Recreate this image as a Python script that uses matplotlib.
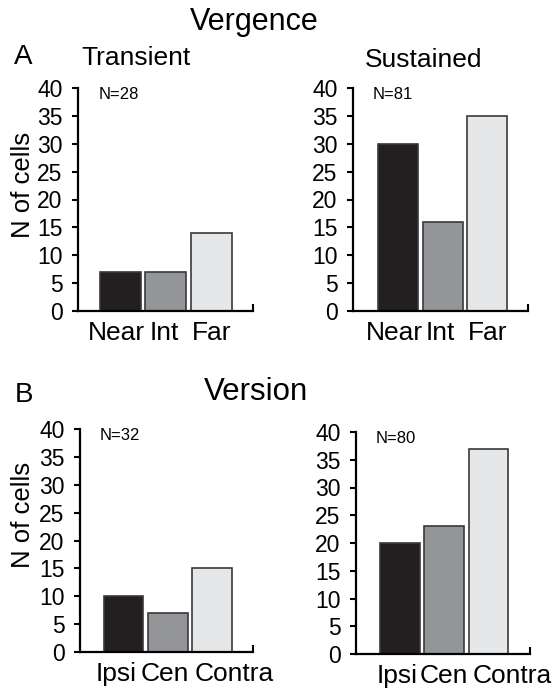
import matplotlib.pyplot as plt

plt.rcParams['font.family'] = ['Liberation Sans', 'DejaVu Sans']

vergence_labels = ['Near', 'Int', 'Far']
transient_counts = [7, 7, 14]
sustained_counts = [30, 16, 35]

version_labels = ['Ipsi', 'Cen', 'Contra']
version_left_counts = [10, 7, 15]
version_right_counts = [20, 23, 37]

n_labels = ['N=28', 'N=81', 'N=32', 'N=80']
bar_colors = ['#231f20', '#939598', '#e6e7e8']
yticks = [0, 5, 10, 15, 20, 25, 30, 35, 40]

W, H = 559, 690
fig = plt.figure(figsize=(W / 100, H / 100), dpi=100)


def px_axes(x0, x1, y0, y1):
    # pixel box -> figure fraction
    return fig.add_axes([x0 / W, 1 - y1 / H, (x1 - x0) / W, (y1 - y0) / H])


# axes, labels, counts, N text, xlim, label nudges (px)
panels = [
    (px_axes(78, 253, 88, 311), vergence_labels, transient_counts, n_labels[0], (0.07, 3.91), [-4, -2, 0]),
    (px_axes(353, 528, 88, 311), vergence_labels, sustained_counts, n_labels[1], (-0.02, 3.92), [-4, -2, 0]),
    (px_axes(80, 253, 429, 652), version_labels, version_left_counts, n_labels[2], (0.02, 3.92), [-7, -3, 22]),
    (px_axes(356, 530, 432, 654), version_labels, version_right_counts, n_labels[3], (0.0, 3.94), [-3, -1, 24]),
]

for ax, labels, counts, ntext, xlim, nudges in panels:
    pos = [1, 2, 3]
    ax.bar(pos, counts, width=0.9, color=bar_colors, edgecolor='#3a3a3a', linewidth=1.2)
    ax.set_xlim(xlim)
    ax.set_ylim(0, 40)
    ax.set_yticks(yticks)
    ax.set_xticks([xlim[1]])
    ax.set_xticklabels([])
    ax.tick_params(axis='x', direction='in', length=5, width=1.5)
    for p, lab, dx in zip(pos, labels, nudges):
        ax.annotate(lab, xy=(p, 0), xycoords=('data', 'axes fraction'),
                    xytext=(dx * 0.72, -7), textcoords='offset points',
                    ha='center', va='top', fontsize=19)
    ax.tick_params(axis='y', direction='out', length=4, width=1.5, labelsize=16.5, pad=7)
    for s in ['top', 'right']:
        ax.spines[s].set_visible(False)
    for s in ['left', 'bottom']:
        ax.spines[s].set_linewidth(1.6)
    ax.text(0.115, 0.972, ntext, transform=ax.transAxes, fontsize=12, va='center', ha='left')

fig.text(254 / W, 1 - 22 / H, 'Vergence', fontsize=22, ha='center', va='center')
fig.text(256 / W, 1 - 392 / H, 'Version', fontsize=22.5, ha='center', va='center')
fig.text(23 / W, 1 - 57 / H, 'A', fontsize=20, ha='center', va='center')
fig.text(24 / W, 1 - 395 / H, 'B', fontsize=20, ha='center', va='center')
fig.text(136 / W, 1 - 58 / H, 'Transient', fontsize=19, ha='center', va='center')
fig.text(424 / W, 1 - 60 / H, 'Sustained', fontsize=19, ha='center', va='center')
fig.text(23 / W, 1 - 185 / H, 'N of cells', fontsize=18.5, rotation=90, ha='center', va='center')
fig.text(23 / W, 1 - 515 / H, 'N of cells', fontsize=18.5, rotation=90, ha='center', va='center')

fig.savefig('out.png', dpi=100)
